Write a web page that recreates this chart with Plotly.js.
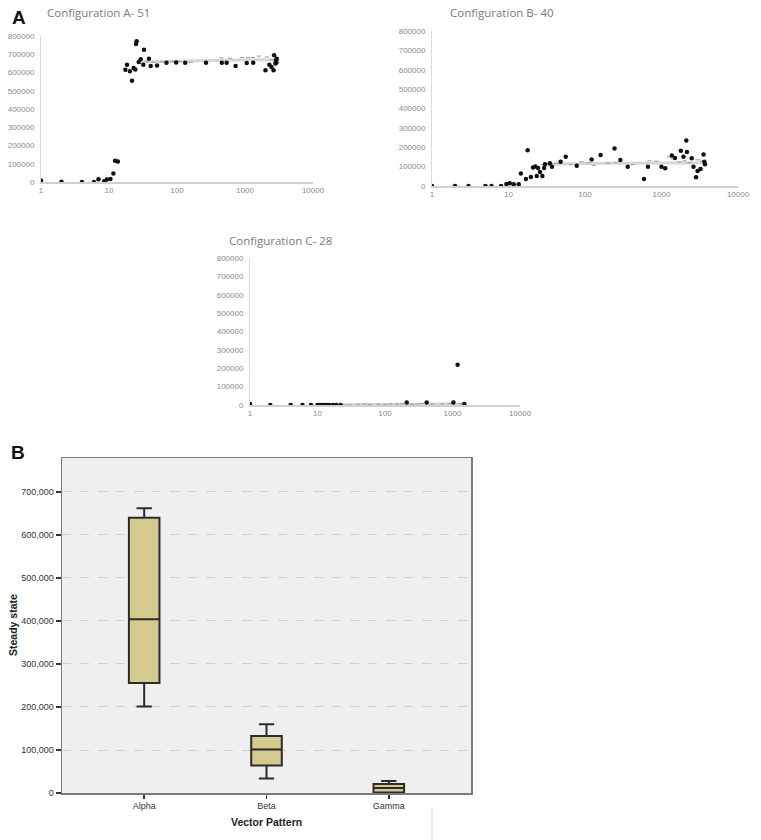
<!DOCTYPE html>
<html>
<head>
<meta charset="utf-8">
<script src="https://cdn.plot.ly/plotly-3.0.1.min.js"></script>
<style>
html,body{margin:0;padding:0;background:#fff;}
#chart{width:761px;height:840px;}
</style>
</head>
<body>
<div id="chart"></div>
<script>
// ---- Panel A: Configuration A- 51 ----
const aX = [1, 2, 4, 6, 7, 8.5, 9.3, 10.5, 11.6, 12.3, 13.5, 17.4, 18.4, 20.3, 21.8, 23, 24.4, 25, 25.5, 27.3, 29.3, 32, 32.7, 38.7, 41, 51, 70, 97, 132, 267, 456, 537, 726, 1060, 1320, 2000, 2280, 2460, 2630, 2680, 2800, 2860, 2900, 2930];
const aY = [8000, 2000, 0, 0, 14600, 4000, 14000, 16000, 47000, 117000, 113000, 615000, 643000, 607000, 555000, 625000, 617000, 756000, 771000, 657000, 672000, 643000, 725000, 676000, 636000, 639000, 653000, 655000, 653000, 653000, 653000, 653000, 636000, 652000, 653000, 613000, 643000, 630000, 613000, 694000, 650000, 667000, 655000, 675000];
const aSmallX = [30, 36, 45, 60, 85, 110, 160, 450, 600, 900, 1100, 1300, 1600, 2100, 2500];
const aSmallY = [650000, 662000, 655000, 658000, 662000, 660000, 656000, 680000, 678000, 682000, 683000, 682000, 690000, 685000, 670000];
const aTrendX = [30, 40, 60, 100, 200, 400, 800, 1500, 2500, 2900];
const aTrendY = [655000, 660000, 660000, 662000, 663000, 665000, 668000, 670000, 668000, 665000];

// ---- Panel B: Configuration B- 40 ----
const bX = [1, 2, 3, 5, 6, 8, 9.4, 10.4, 11.7, 13.6, 14.5, 16.9, 17.8, 19.6, 20.9, 22.4, 23.4, 24.3, 25.8, 27.7, 29.2, 30, 34.8, 37, 48, 56, 78, 122, 160, 243, 290, 362, 590, 665, 1000, 1120, 1365, 1500, 1790, 1940, 2110, 2150, 2480, 2620, 2830, 2960, 3240, 3550, 3630, 3700];
const bY = [0, 0, 0, 0, 0, 0, 10000, 14000, 9000, 9000, 65000, 36000, 184000, 46000, 96000, 101000, 52000, 93000, 72000, 52000, 93000, 112000, 118000, 100000, 125000, 151000, 105000, 137000, 160000, 194000, 134000, 100000, 36000, 100000, 100000, 91000, 158000, 144000, 182000, 151000, 235000, 175000, 143000, 100000, 45000, 77000, 88000, 163000, 125000, 112000];
const bSmallX = [28, 33, 42, 65, 90, 110, 130, 200, 250, 420, 700, 850, 1250, 1400, 1700, 2000, 2300, 3000, 3400];
const bSmallY = [110000, 115000, 118000, 110000, 125000, 120000, 105000, 118000, 122000, 110000, 130000, 128000, 150000, 140000, 125000, 130000, 120000, 135000, 128000];
const bTrendX = [30, 40, 60, 100, 200, 400, 800, 1500, 2500, 3600];
const bTrendY = [105000, 112000, 115000, 117000, 118000, 117000, 118000, 120000, 122000, 120000];

// ---- Panel C: Configuration C- 28 ----
const cX = [1, 2, 4, 6, 8, 10, 11, 12, 13, 14, 15, 17, 19, 22, 210, 415, 1030, 1190, 1500];
const cY = [5000, 0, 0, 0, 0, 0, 0, 0, 0, 0, 0, 0, 0, 0, 13000, 13000, 13000, 219000, 5000];
const cSmallX = [25, 30, 40, 50, 60, 80, 100, 120, 150, 180, 250, 300, 350, 500, 700, 900, 1300];
const cSmallY = [0, 1000, 4000, 6000, 3000, 5000, 4000, 6000, 5000, 7000, 4000, 6000, 8000, 5000, 6000, 8000, 7000];
const cTrendX = [20, 50, 100, 200, 400, 800, 1500];
const cTrendY = [1000, 3000, 4000, 5000, 6000, 6000, 6000];

// ---- Box plot ----
const boxCats = ["Alpha", "Beta", "Gamma"];
const boxLower = [201000, 34000, 0];
const boxQ1 = [256000, 64000, 1000];
const boxMedian = [404000, 101000, 11600];
const boxQ3 = [640000, 132600, 21000];
const boxUpper = [662000, 160000, 28000];
const boxYTicks = [0, 100000, 200000, 300000, 400000, 500000, 600000, 700000];
const boxYTickText = ["0", "100,000", "200,000", "300,000", "400,000", "500,000", "600,000", "700,000"];

const scatterYTicks = [0, 100000, 200000, 300000, 400000, 500000, 600000, 700000, 800000];
const logTicks = [1, 10, 100, 1000, 10000];

const W = 761, H = 840;
function dx(a, b) { return [a / W, b / W]; }
function dy(top, bottom) { return [1 - bottom / H, 1 - top / H]; }

function dots(x, y, xa, ya) {
  return {x: x, y: y, xaxis: xa, yaxis: ya, type: 'scatter', mode: 'markers',
    marker: {color: '#111', size: 4.5}, hoverinfo: 'x+y', showlegend: false};
}
function small(x, y, xa, ya) {
  return {x: x, y: y, xaxis: xa, yaxis: ya, type: 'scatter', mode: 'markers',
    marker: {color: '#9a9a9a', size: 3, symbol: 'line-ew-open', line: {color: '#8a8a8a', width: 1}}, showlegend: false};
}
function trend(x, y, xa, ya) {
  return {x: x, y: y, xaxis: xa, yaxis: ya, type: 'scatter', mode: 'lines',
    line: {color: '#d6d6d6', width: 3}, showlegend: false};
}

const data = [
  trend(aTrendX, aTrendY, 'x', 'y'), small(aSmallX, aSmallY, 'x', 'y'), dots(aX, aY, 'x', 'y'),
  trend(bTrendX, bTrendY, 'x2', 'y2'), small(bSmallX, bSmallY, 'x2', 'y2'), dots(bX, bY, 'x2', 'y2'),
  trend(cTrendX, cTrendY, 'x3', 'y3'), small(cSmallX, cSmallY, 'x3', 'y3'), dots(cX, cY, 'x3', 'y3'),
  {
    type: 'box', x: boxCats, xaxis: 'x4', yaxis: 'y4',
    q1: boxQ1, median: boxMedian, q3: boxQ3, lowerfence: boxLower, upperfence: boxUpper,
    fillcolor: '#d4c98f', line: {color: '#2b2b2b', width: 2},
    width: 0.25, whiskerwidth: 0.5, showlegend: false, boxpoints: false
  }
];

const tickFont = {family: 'Liberation Sans, Arial, sans-serif', size: 8, color: '#8a8a8a'};
function xLog(domain) {
  return {domain: domain, type: 'log', range: [0, 4], tickvals: logTicks, ticktext: logTicks.map(String),
    showgrid: false, zeroline: false, showline: true, linecolor: '#d0d0d0', linewidth: 1.5,
    ticks: '', tickfont: tickFont, fixedrange: true};
}
function yLin(domain, anchor) {
  return {domain: domain, anchor: anchor, range: [0, 800000], tickvals: scatterYTicks, ticktext: scatterYTicks.map(String),
    showgrid: false, zeroline: false, showline: true, linecolor: '#d9d9d9', linewidth: 1,
    ticks: '', tickfont: tickFont, ticklabelstandoff: 4, fixedrange: true};
}

const boxTickFont = {family: 'Liberation Sans, Arial, sans-serif', size: 9, color: '#333'};
const layout = {
  width: W, height: H,
  margin: {l: 0, r: 0, t: 0, b: 0},
  paper_bgcolor: '#ffffff', plot_bgcolor: 'rgba(0,0,0,0)',
  showlegend: false,
  xaxis: Object.assign(xLog(dx(41, 313)), {anchor: 'y'}),
  yaxis: yLin(dy(36, 182), 'x'),
  xaxis2: Object.assign(xLog(dx(432, 738)), {anchor: 'y2'}),
  yaxis2: yLin(dy(31, 186), 'x2'),
  xaxis3: Object.assign(xLog(dx(250, 520)), {anchor: 'y3'}),
  yaxis3: yLin(dy(258, 405), 'x3'),
  xaxis4: {domain: dx(62, 471), anchor: 'y4', type: 'category', range: [-0.672, 2.672],
    showgrid: false, zeroline: false, showline: true, mirror: true, linecolor: '#7a7a7a', linewidth: 1.5,
    ticks: 'outside', ticklen: 4, tickcolor: '#333', tickwidth: 1.5, tickfont: boxTickFont, fixedrange: true},
  yaxis4: {domain: dy(458, 793), anchor: 'x4', range: [0, 779000], tickvals: boxYTicks, ticktext: boxYTickText,
    showgrid: true, gridcolor: '#cfcfcf', griddash: 'dash', gridwidth: 1, zeroline: false,
    showline: true, mirror: true, linecolor: '#7a7a7a', linewidth: 1.5,
    ticks: 'outside', ticklen: 5, tickcolor: '#333', tickwidth: 1.5, tickfont: boxTickFont, fixedrange: true},
  shapes: [
    {type: 'rect', xref: 'x4 domain', yref: 'y4 domain', x0: 0, x1: 1, y0: 0, y1: 1,
      fillcolor: '#efefef', line: {width: 0}, layer: 'below'},
    {type: 'line', xref: 'paper', yref: 'paper', x0: 432 / W, x1: 432 / W, y0: 1 - 840 / H, y1: 1 - 808 / H,
      line: {color: '#d8d8d8', width: 1}}
  ],
  annotations: [
    {text: 'A', xref: 'paper', yref: 'paper', x: 19 / W, y: 1 - 17 / H, showarrow: false,
      font: {family: 'Liberation Sans, Arial, sans-serif', size: 19, color: '#111', weight: 'bold'}, xanchor: 'center', yanchor: 'middle'},
    {text: 'B', xref: 'paper', yref: 'paper', x: 18 / W, y: 1 - 452 / H, showarrow: false,
      font: {family: 'Liberation Sans, Arial, sans-serif', size: 19, color: '#111', weight: 'bold'}, xanchor: 'center', yanchor: 'middle'},
    {text: 'Configuration A- 51', xref: 'paper', yref: 'paper', x: 45 / W, y: 1 - 13 / H, showarrow: false,
      font: {family: 'Open Sans, sans-serif', size: 11.5, color: '#7a7a7a'}, xanchor: 'left', yanchor: 'middle'},
    {text: 'Configuration B- 40', xref: 'paper', yref: 'paper', x: 448 / W, y: 1 - 13 / H, showarrow: false,
      font: {family: 'Open Sans, sans-serif', size: 11.5, color: '#7a7a7a'}, xanchor: 'left', yanchor: 'middle'},
    {text: 'Configuration C- 28', xref: 'paper', yref: 'paper', x: 227 / W, y: 1 - 240 / H, showarrow: false,
      font: {family: 'Open Sans, sans-serif', size: 11.5, color: '#7a7a7a'}, xanchor: 'left', yanchor: 'middle'},
    {text: 'Steady state', xref: 'paper', yref: 'paper', x: 13 / W, y: 1 - 625 / H, showarrow: false, textangle: -90,
      font: {family: 'Liberation Sans, Arial, sans-serif', size: 10.5, color: '#222', weight: 'bold'}, xanchor: 'center', yanchor: 'middle'},
    {text: 'Vector Pattern', xref: 'paper', yref: 'paper', x: 266 / W, y: 1 - 822 / H, showarrow: false,
      font: {family: 'Liberation Sans, Arial, sans-serif', size: 10.5, color: '#222', weight: 'bold'}, xanchor: 'center', yanchor: 'middle'}
  ]
};

Plotly.newPlot('chart', data, layout, {displayModeBar: false, staticPlot: true});
</script>
</body>
</html>
